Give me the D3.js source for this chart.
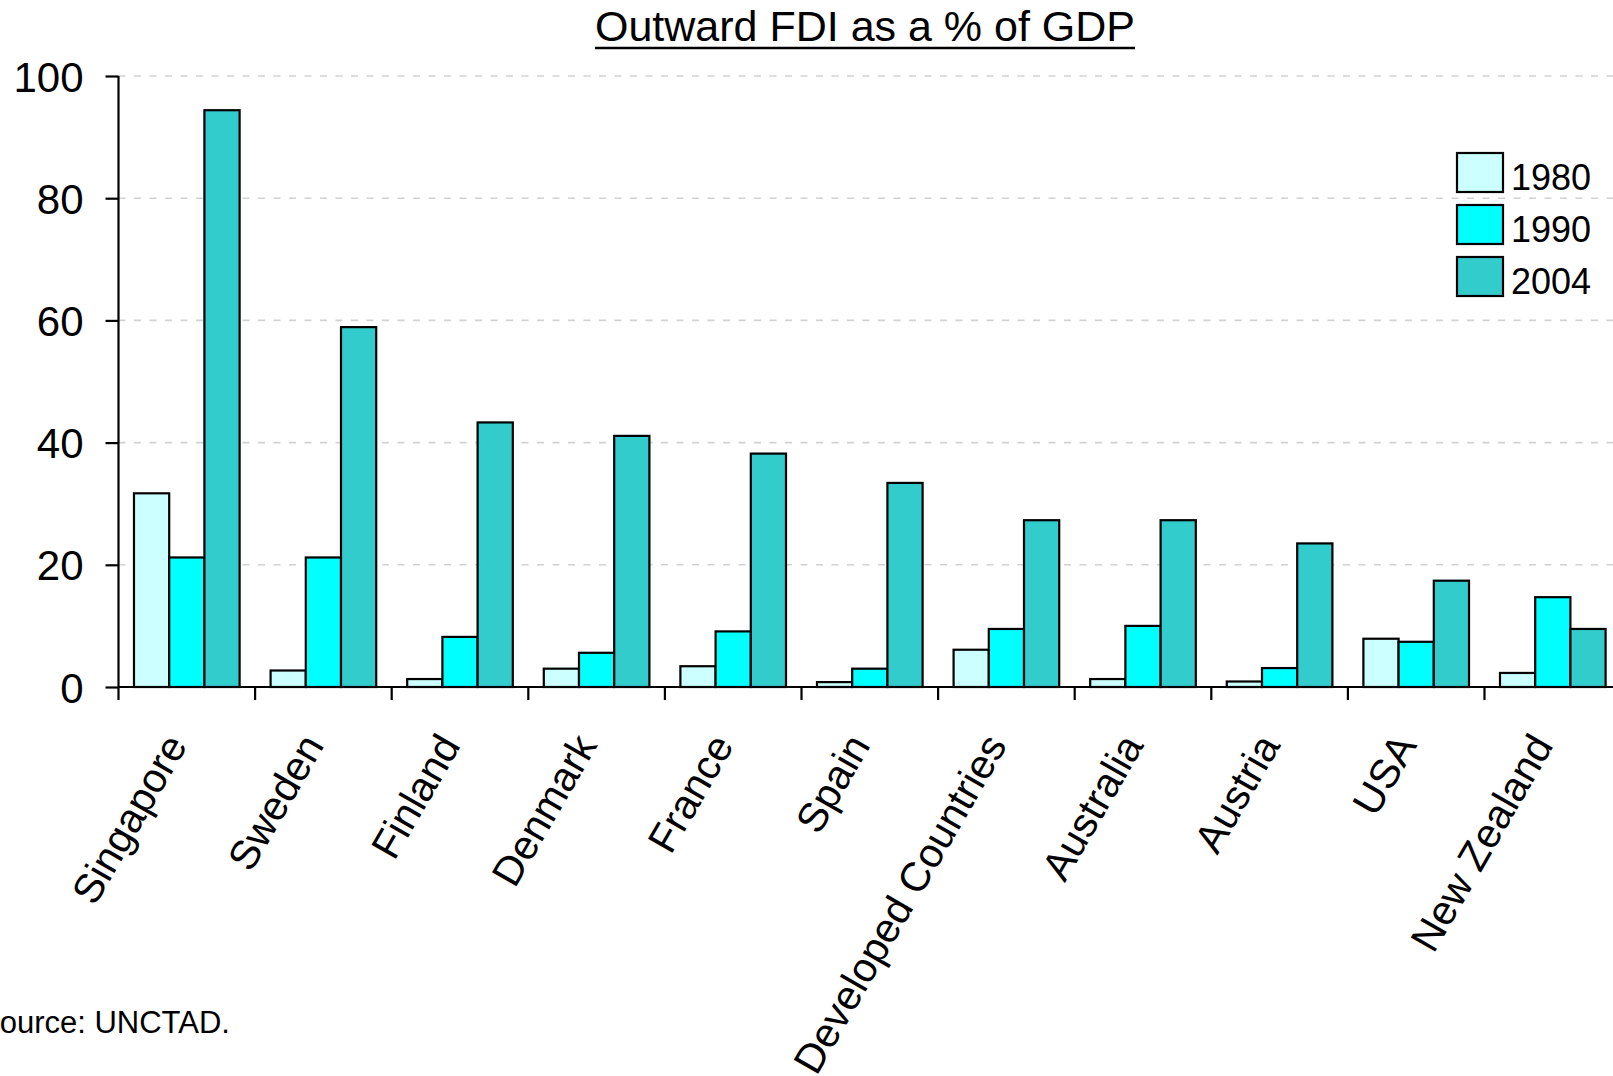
<!DOCTYPE html>
<html>
<head>
<meta charset="utf-8">
<script src="https://cdn.jsdelivr.net/npm/d3@7"></script>
<style>
  html, body { margin: 0; padding: 0; background: #fff; overflow: hidden; }
  svg { display: block; font-family: "Liberation Sans", Arial, sans-serif; }
</style>
</head>
<body>
<svg id="chart" width="1613" height="1076"></svg>
<script>
// Outward FDI stock as a share of GDP, by economy
const categories = ["Singapore", "Sweden", "Finland", "Denmark", "France", "Spain",
  "Developed Countries", "Australia", "Austria", "USA", "New Zealand"];
const seriesNames = ["1980", "1990", "2004"];
const values1980 = [31.7, 2.7, 1.3, 3.0, 3.4, 0.8, 6.1, 1.3, 0.9, 7.9, 2.3];
const values1990 = [21.2, 21.2, 8.2, 5.6, 9.1, 3.0, 9.5, 10.0, 3.1, 7.4, 14.7];
const values2004 = [94.4, 58.9, 43.3, 41.1, 38.2, 33.4, 27.3, 27.3, 23.5, 17.4, 9.5];
const yTicks = [0, 20, 40, 60, 80, 100];
const titleText = "Outward FDI as a % of GDP";
const sourceText = "Source: UNCTAD.";

const seriesValues = [values1980, values1990, values2004];
const colors = ["#CCFFFF", "#00FFFF", "#33CCCC"];

const svg = d3.select("#chart");
const plot = { left: 118.5, top: 76, bottom: 687, bandStep: 136.6 };
const plotRight = plot.left + plot.bandStep * categories.length;

const x0 = d3.scaleBand().domain(categories).range([plot.left, plotRight]).padding(0);
const x1 = d3.scaleBand().domain(seriesNames).range([0, x0.bandwidth()])
  .paddingInner(0).paddingOuter(0.44);
const y = d3.scaleLinear().domain([0, 100]).range([plot.bottom, plot.top]);

// dashed horizontal gridlines
svg.append("g")
  .selectAll("line")
  .data(yTicks.filter(d => d > 0))
  .join("line")
  .attr("x1", plot.left)
  .attr("x2", 1613)
  .attr("y1", d => y(d))
  .attr("y2", d => y(d))
  .attr("stroke", "#d2d2d2")
  .attr("stroke-width", 1.6)
  .attr("stroke-dasharray", "7,8.5");

// grouped bars
const rows = categories.map((c, i) => ({ cat: c, vals: seriesNames.map((s, k) => ({ s, k, v: seriesValues[k][i] })) }));
svg.append("g")
  .selectAll("g")
  .data(rows)
  .join("g")
  .attr("transform", d => `translate(${x0(d.cat)},0)`)
  .selectAll("rect")
  .data(d => d.vals)
  .join("rect")
  .attr("x", d => x1(d.s))
  .attr("width", x1.bandwidth())
  .attr("y", d => y(d.v))
  .attr("height", d => y(0) - y(d.v))
  .attr("fill", d => colors[d.k])
  .attr("stroke", "#000")
  .attr("stroke-width", 2.2);

// y axis
const yAxis = d3.axisLeft(y).tickValues(yTicks).tickSize(13).tickPadding(22).tickFormat(d3.format("d"));
const gy = svg.append("g").attr("transform", `translate(${plot.left},0)`).call(yAxis);
gy.select(".domain").attr("stroke", "#000").attr("stroke-width", 2.2).attr("d", `M0,${plot.top}V${plot.bottom}`);
gy.selectAll(".tick line").attr("stroke", "#000").attr("stroke-width", 2.2);
gy.selectAll(".tick text").attr("font-size", 42).attr("fill", "#000")
  .attr("font-family", "'Liberation Sans', Arial, sans-serif").attr("dy", "0.36em");

// x axis: baseline with ticks at band boundaries
const gx = svg.append("g").attr("transform", `translate(0,${plot.bottom})`);
gx.append("line")
  .attr("x1", plot.left).attr("x2", 1613)
  .attr("y1", 0).attr("y2", 0)
  .attr("stroke", "#000").attr("stroke-width", 2.2);
gx.selectAll("line.tk")
  .data(categories)
  .join("line")
  .attr("class", "tk")
  .attr("x1", d => x0(d)).attr("x2", d => x0(d))
  .attr("y1", 0).attr("y2", 13)
  .attr("stroke", "#000").attr("stroke-width", 2.2);
gx.selectAll("text")
  .data(categories)
  .join("text")
  .attr("transform", d => `translate(${x0(d) + x0.bandwidth() / 2 - 11},51) rotate(-60)`)
  .attr("text-anchor", "end")
  .attr("dy", "0.35em")
  .attr("font-size", 41)
  .attr("fill", "#000")
  .text(d => d);

// title, underlined
const title = svg.append("text")
  .attr("x", 865)
  .attr("y", 41)
  .attr("text-anchor", "middle")
  .attr("font-size", 43)
  .attr("fill", "#000")
  .text(titleText);
const tb = title.node().getBBox();
svg.append("line")
  .attr("x1", tb.x).attr("x2", tb.x + tb.width)
  .attr("y1", 48).attr("y2", 48)
  .attr("stroke", "#000").attr("stroke-width", 2.5);

// legend
const legend = svg.append("g").attr("transform", "translate(1457,153)");
const legendRow = d3.scalePoint().domain(seriesNames).range([0, 104]);
const li = legend.selectAll("g").data(seriesNames).join("g")
  .attr("transform", d => `translate(0,${legendRow(d)})`);
li.append("rect")
  .attr("width", 46).attr("height", 39)
  .attr("fill", (d, i) => colors[i])
  .attr("stroke", "#000").attr("stroke-width", 2.2);
li.append("text")
  .attr("x", 54).attr("y", 24)
  .attr("dy", "0.36em")
  .attr("font-size", 36)
  .attr("fill", "#000")
  .text(d => d);

// source note
svg.append("text")
  .attr("x", -21)
  .attr("y", 1033)
  .attr("font-size", 31)
  .attr("fill", "#000")
  .text(sourceText);
</script>
</body>
</html>
